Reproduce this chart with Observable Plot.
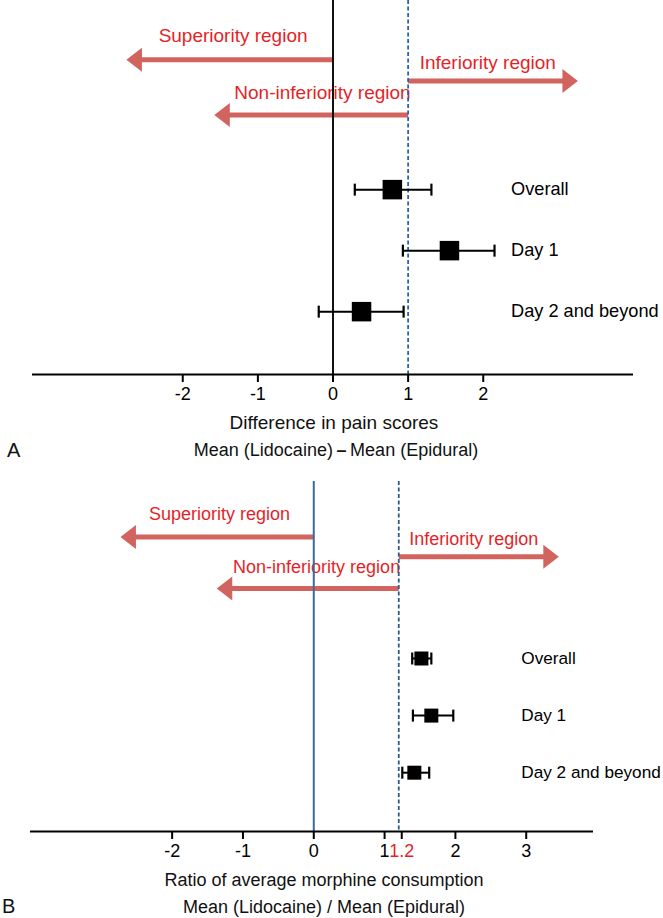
<!DOCTYPE html>
<html>
<head>
<meta charset="utf-8">
<script src="https://cdn.jsdelivr.net/npm/d3@7"></script>
<script src="https://cdn.jsdelivr.net/npm/@observablehq/plot@0.6"></script>
<style>
  html, body { margin: 0; padding: 0; background: #fff; }
  #wrap { position: relative; width: 663px; height: 918px; overflow: hidden;
          font-family: "Liberation Sans", Arial, Helvetica, sans-serif; color: #111; }
  .abs { position: absolute; white-space: nowrap; }
  .ctr { width: 800px; text-align: center; }
</style>
</head>
<body>
<div id="wrap"></div>
<script>
// ---------- data ----------
const categories = ["Overall", "Day 1", "Day 2 and beyond"];

// Panel A: difference in pain scores
const painMean = [0.79, 1.55, 0.38];
const painLow  = [0.29, 0.93, -0.19];
const painHigh = [1.31, 2.15, 0.94];
const painMargin = 1;
const painTicks = [-2, -1, 0, 1, 2];

// Panel B: ratio of average morphine consumption
const morphMean = [1.52, 1.66, 1.42];
const morphLow  = [1.39, 1.40, 1.25];
const morphHigh = [1.66, 1.97, 1.63];
const morphMargin = 1.2;
const morphTicks = [-2, -1, 0, 1, 2, 3];
const morphMarginTick = [1.2];

// Region arrows
const regionLabels = ["Superiority region", "Inferiority region", "Non-inferiority region"];
const painRegionFrom = [0, 1, 1];
const painRegionTo = [-2.75, 3.26, -1.58];
const morphRegionFrom = [0, 1.2, 1.2];
const morphRegionTo = [-2.73, 3.46, -1.37];

// ---------- layout ----------
const W = 663;
const FONT = "'Liberation Sans', Arial, Helvetica, sans-serif";
const RED = "#e61f28";
const ARROW = "#d1645e";
const rowTop = -2.1, rowBottom = 4.03;
const arrowRow = [-1.13, -0.78, -0.225];
const textRow = [-1.52, -1.085, -0.59];
const headLen = 15.5, headH = 24;

function capSymbol(h) {
  return { draw(ctx) { ctx.moveTo(0, -h / 2); ctx.lineTo(0, h / 2); } };
}
const headSymbol = {
  draw(ctx) { ctx.moveTo(0, 0); ctx.lineTo(-headLen, -headH / 2); ctx.lineTo(-headLen, headH / 2); ctx.closePath(); }
};

function panel(cfg) {
  const innerW = W - cfg.ml - cfg.mr;
  const pxPerUnit = innerW / (cfg.xDomain[1] - cfg.xDomain[0]);
  const regions = regionLabels.map((label, i) => {
    const dir = Math.sign(cfg.to[i] - cfg.from[i]);
    return {
      label, from: cfg.from[i], to: cfg.to[i], dir,
      shaftEnd: cfg.to[i] - dir * (headLen - 1) / pxPerUnit,
      row: arrowRow[i], textRow: textRow[i], textX: cfg.textX[i]
    };
  });
  const rows = categories.map((category, i) => ({
    category, row: i + 1, mean: cfg.mean[i], lo: cfg.lo[i], hi: cfg.hi[i]
  }));
  const extraTicks = cfg.extraTicks ? [
    Plot.axisX({ticks: cfg.extraTicks, tickSize: 8, tickPadding: 5, fontSize: cfg.tickFont,
      strokeWidth: 2, stroke: "black", fill: RED, dx: 3, tickFormat: d => String(d), label: null})
  ] : [];
  return Plot.plot({
    width: W, height: cfg.height,
    marginLeft: cfg.ml, marginRight: cfg.mr, marginTop: cfg.mt, marginBottom: cfg.mb,
    style: { fontFamily: FONT, background: "white", overflow: "visible" },
    x: { domain: cfg.xDomain, axis: null },
    y: { domain: [rowBottom, rowTop], axis: null },
    marks: [
      Plot.link(regions, {x1: "from", x2: "shaftEnd", y1: "row", y2: "row", stroke: ARROW, strokeWidth: 5}),
      Plot.dot(regions, {x: "to", y: "row", symbol: headSymbol, r: 10, fill: ARROW, stroke: "none",
        rotate: d => d.dir > 0 ? 0 : 180}),
      Plot.text(regions, {x: "textX", y: "textRow", text: "label", fill: RED, fontSize: cfg.regionFont}),
      Plot.ruleX([0], {stroke: cfg.zeroColor, strokeWidth: 2}),
      Plot.ruleX([cfg.margin], {stroke: cfg.dashColor, strokeWidth: 1.8, strokeDasharray: "4,2.5"}),
      Plot.ruleY([rowBottom], {stroke: "black", strokeWidth: 2}),
      Plot.axisX({ticks: cfg.ticks, tickSize: 8, tickPadding: 5, fontSize: cfg.tickFont,
        strokeWidth: 2, stroke: "black", fill: "black", tickFormat: d => String(d), label: null}),
      ...extraTicks,
      Plot.link(rows, {x1: "lo", x2: "hi", y1: "row", y2: "row", stroke: "black", strokeWidth: 2}),
      Plot.dot(rows, {x: "lo", y: "row", symbol: capSymbol(12), r: 6, stroke: "black", strokeWidth: 2.2, fill: "none"}),
      Plot.dot(rows, {x: "hi", y: "row", symbol: capSymbol(12), r: 6, stroke: "black", strokeWidth: 2.2, fill: "none"}),
      Plot.dot(rows, {x: "mean", y: "row", symbol: "square", r: cfg.sq / Math.sqrt(Math.PI), fill: "black", stroke: "none"}),
      Plot.text(rows, {x: () => cfg.labelX, y: "row", text: "category", textAnchor: "start",
        fontSize: cfg.labelFont, fill: "black"})
    ]
  });
}

const wrap = document.getElementById("wrap");

function place(el, top, left) {
  el.style.position = "absolute"; el.style.top = top + "px"; el.style.left = left + "px";
  wrap.appendChild(el);
}
function label(text, cx, cy, size, html) {
  const d = document.createElement("div");
  d.className = "abs ctr";
  d.style.fontSize = size + "px";
  d.style.lineHeight = "24px";
  d.style.left = (cx - 400) + "px";
  d.style.top = (cy - 12) + "px";
  if (html) d.innerHTML = text; else d.textContent = text;
  wrap.appendChild(d);
}
function letter(text, x, cy, size) {
  const d = document.createElement("div");
  d.className = "abs";
  d.style.fontSize = size + "px";
  d.style.lineHeight = "24px";
  d.style.left = x + "px";
  d.style.top = (cy - 12) + "px";
  d.textContent = text;
  wrap.appendChild(d);
}

const plotA = panel({
  height: 410, ml: 32, mr: 30, mt: 0, mb: 36,
  xDomain: [-4, 4], ticks: painTicks, margin: painMargin,
  mean: painMean, lo: painLow, hi: painHigh,
  from: painRegionFrom, to: painRegionTo,
  textX: [-1.33, 2.06, -0.14], labelX: 2.37,
  zeroColor: "#111", dashColor: "#2a63ad",
  tickFont: 18, regionFont: 19, labelFont: 18.2, sq: 19.5
});
place(plotA, 0, 0);

const plotB = panel({
  height: 390, ml: 30, mr: 70, mt: 1, mb: 39,
  xDomain: [-4, 3.95], ticks: morphTicks, extraTicks: morphMarginTick, margin: morphMargin,
  mean: morphMean, lo: morphLow, hi: morphHigh,
  from: morphRegionFrom, to: morphRegionTo,
  textX: [-1.33, 2.26, 0.04], labelX: 2.93,
  zeroColor: "#3a6b9b", dashColor: "#2d5a8c",
  tickFont: 18, regionFont: 18, labelFont: 17.2, sq: 14
});
place(plotB, 480, 0);

label("Difference in pain scores", 334, 423, 19);
label("Mean (Lidocaine)<b>\u2009\u2013\u2009</b>Mean (Epidural)", 336, 450, 18, true);
letter("A", 7, 450, 20);

label("Ratio of average morphine consumption", 324, 880, 18);
label("Mean (Lidocaine) / Mean (Epidural)", 324, 907, 18);
letter("B", 2, 906, 20);
</script>
</body>
</html>
